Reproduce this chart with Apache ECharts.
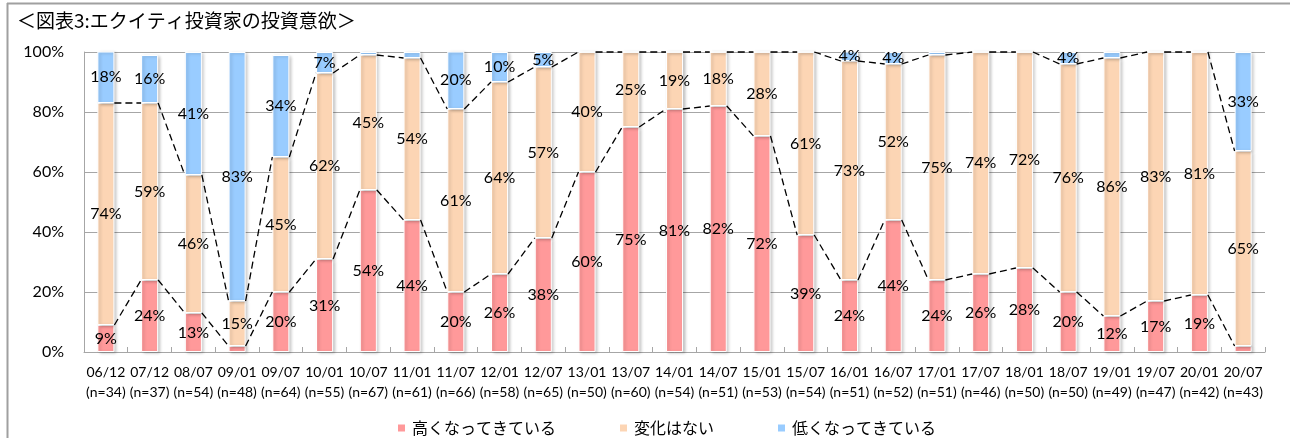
<!DOCTYPE html>
<html>
<head>
<meta charset="utf-8">
<script src="https://cdn.jsdelivr.net/npm/echarts@6/dist/echarts.min.js"></script>
<style>
  html, body { margin: 0; padding: 0; background: #fff; }
  #chart { width: 1290px; height: 438px; }
</style>
</head>
<body>
<div id="chart"></div>
<script>
// Survey periods (yy/mm) and respondent counts
const periods = ['06/12','07/12','08/07','09/01','09/07','10/01','10/07','11/01','11/07','12/01',
  '12/07','13/01','13/07','14/01','14/07','15/01','15/07','16/01','16/07','17/01',
  '17/07','18/01','18/07','19/01','19/07','20/01','20/07'];
const sampleSizes = [34,37,54,48,64,55,67,61,66,58,65,50,60,54,51,53,54,51,52,51,46,50,50,49,47,42,43];

// Share of answers (%)
const higher    = [9,24,13,2,20,31,54,44,20,26,38,60,75,81,82,72,39,24,44,24,26,28,20,12,17,19,2];
const unchanged = [74,59,46,15,45,62,45,54,61,64,57,40,25,19,18,28,61,73,52,75,74,72,76,86,83,81,65];
const lower     = [18,16,41,83,34,7,1,2,20,10,5,0,0,0,0,0,0,4,4,1,0,0,4,2,0,0,33];

const seriesNames = ['高くなってきている', '変化はない', '低くなってきている'];
const seriesColors = ['#FF999A', '#FCD5B4', '#99CCFF'];
const yTicks = [0, 20, 40, 60, 80, 100];

const numFont = 'Lato, "Noto Sans CJK JP", sans-serif';
const jpFont = '"Noto Sans CJK JP", sans-serif';
const barRatio = 0.39;

const categoryLabels = periods.map((p, i) => p + '\n(n=' + sampleSizes[i] + ')');

// Cumulative tops of the lower two stacks, used for the dashed series lines
const topHigher = higher.slice();
const topUnchanged = higher.map((v, i) => Math.min(100, v + unchanged[i]));
const seriesLineData = [];
for (let i = 0; i < periods.length - 1; i++) {
  seriesLineData.push([i, topHigher[i], topHigher[i + 1], topUnchanged[i], topUnchanged[i + 1]]);
}

function renderSeriesLines(params, api) {
  const i = api.value(0);
  const band = api.size([1, 0])[0];
  const half = band * barRatio / 2;
  const children = [];
  [[1, 2], [3, 4]].forEach(([a, b]) => {
    const p0 = api.coord([i, api.value(a)]);
    const p1 = api.coord([i + 1, api.value(b)]);
    children.push({
      type: 'line',
      shape: { x1: p0[0] + half, y1: p0[1], x2: p1[0] - half, y2: p1[1] },
      style: { stroke: '#000', lineWidth: 1.3, lineDash: [7, 4] }
    });
  });
  return { type: 'group', children };
}

const barSeries = [higher, unchanged, lower].map((values, k) => ({
  name: seriesNames[k],
  type: 'bar',
  stack: 'share',
  barWidth: (barRatio * 100) + '%',
  data: values,
  itemStyle: {
    color: seriesColors[k],
    borderColor: '#fff',
    borderWidth: 1,
    shadowColor: 'rgba(0,0,0,0.22)',
    shadowBlur: 3,
    shadowOffsetX: 2,
    shadowOffsetY: 1
  },
  label: {
    show: true,
    position: 'inside',
    color: '#000',
    fontFamily: numFont,
    fontSize: 16,
    formatter: p => (p.value >= 3 ? p.value + '%' : '')
  },
  emphasis: { disabled: true },
  z: 3
}));

const chart = echarts.init(document.getElementById('chart'), null, { renderer: 'canvas' });
chart.setOption({
  animation: false,
  backgroundColor: '#fff',
  title: {
    text: '＜図表3:エクイティ投資家の投資意欲＞',
    left: 17,
    top: 11,
    padding: 0,
    textStyle: { fontFamily: jpFont, fontSize: 19, fontWeight: 'normal', color: '#000' }
  },
  legend: {
    data: seriesNames,
    left: 391,
    top: 415,
    icon: 'rect',
    itemWidth: 9,
    itemHeight: 9,
    itemGap: 62,
    textStyle: { fontFamily: jpFont, fontSize: 16, color: '#000', padding: [0, 0, 0, 1] }
  },
  grid: { left: 84, right: 25, top: 52, bottom: 86 },
  xAxis: {
    type: 'category',
    data: categoryLabels,
    axisLine: { lineStyle: { color: '#A6A6A6', width: 1 } },
    axisTick: { show: true, inside: true, length: 5, lineStyle: { color: '#A6A6A6' } },
    axisLabel: { interval: 0, color: '#000', fontFamily: numFont, fontSize: 14, lineHeight: 20, margin: 10 },
    splitLine: { show: false }
  },
  yAxis: {
    type: 'value',
    min: 0,
    max: 100,
    interval: 20,
    axisLine: { show: true, lineStyle: { color: '#A6A6A6', width: 1 } },
    axisTick: { show: false },
    axisLabel: { color: '#000', fontFamily: numFont, fontSize: 16, margin: 20,
      formatter: v => (yTicks.includes(v) ? v + '%' : '') },
    splitLine: { lineStyle: { color: '#A6A6A6', width: 1 } }
  },
  graphic: [
    { type: 'line', shape: { x1: 7, y1: 3.5, x2: 1290, y2: 3.5 }, style: { stroke: '#A0A0A0', lineWidth: 2 } },
    { type: 'line', shape: { x1: 7.5, y1: 3, x2: 7.5, y2: 438 }, style: { stroke: '#A0A0A0', lineWidth: 2 } }
  ],
  series: [
    ...barSeries,
    {
      type: 'custom',
      name: 'series-lines',
      renderItem: renderSeriesLines,
      data: seriesLineData,
      encode: { x: 0, y: [1, 2, 3, 4] },
      silent: true,
      z: 4
    }
  ]
});
</script>
</body>
</html>
